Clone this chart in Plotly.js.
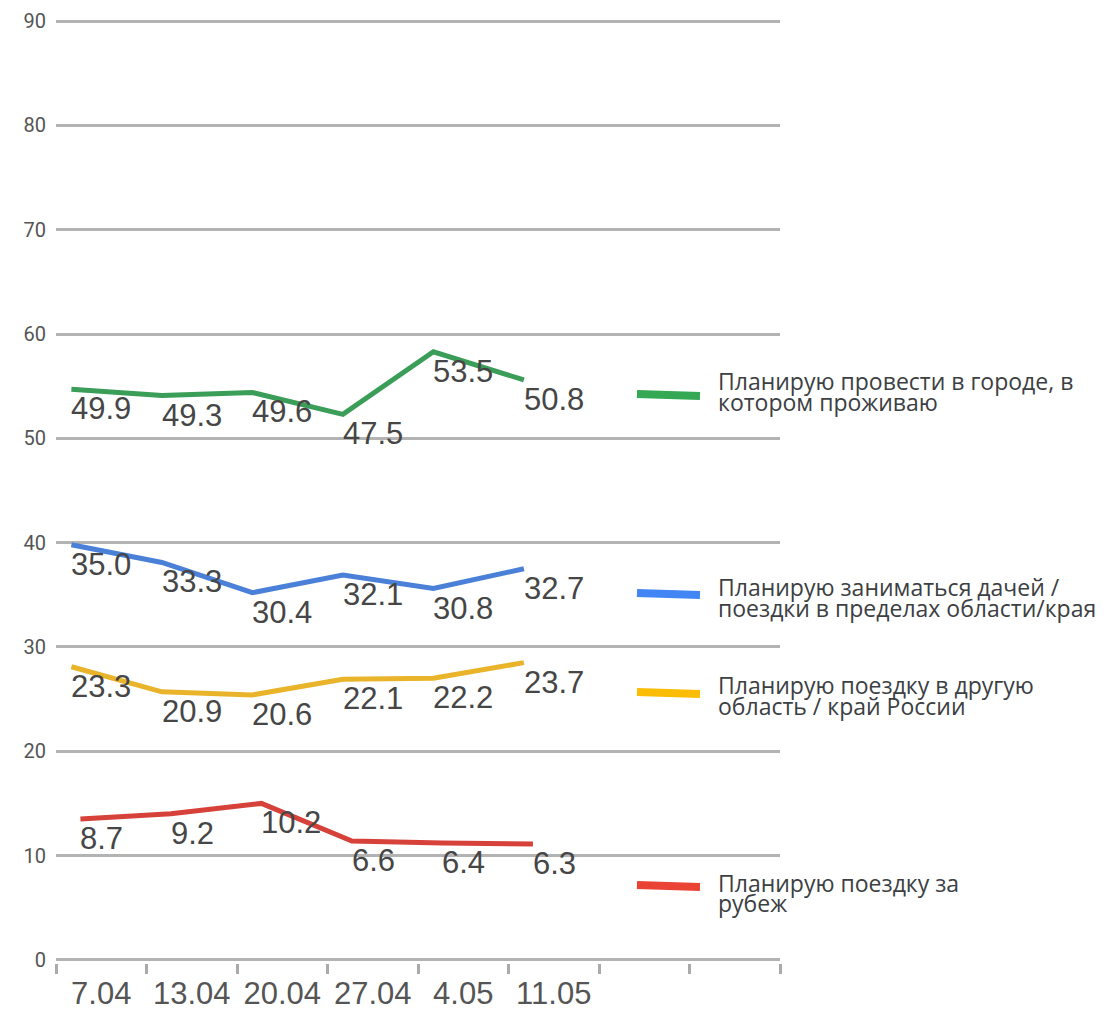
<!DOCTYPE html>
<html>
<head>
<meta charset="utf-8">
<script src="https://cdn.plot.ly/plotly-3.0.1.min.js"></script>
<style>html,body{margin:0;padding:0;background:#fff;}#chart{width:1107px;height:1010px;}</style>
</head>
<body>
<div id="chart"></div>
<script>
// ---- data ----
const categories = ['7.04', '13.04', '20.04', '27.04', '4.05', '11.05'];
const cityValues   = [49.9, 49.3, 49.6, 47.5, 53.5, 50.8];
const dachaValues  = [35.0, 33.3, 30.4, 32.1, 30.8, 32.7];
const russiaValues = [23.3, 20.9, 20.6, 22.1, 22.2, 23.7];
const abroadValues = [8.7, 9.2, 10.2, 6.6, 6.4, 6.3];
const seriesNames = [
  ['Планирую провести в городе, в', 'котором проживаю'],
  ['Планирую заниматься дачей /', 'поездки в пределах области/края'],
  ['Планирую поездку в другую', 'область / край России'],
  ['Планирую поездку за', 'рубеж']
];
const yTickLabels = [0, 10, 20, 30, 40, 50, 60, 70, 80, 90];
// the reference's gridline labels sit 4.8 units below the plotted values
const axisShift = 4.8;

// ---- layout geometry ----
const W = 1107, H = 1010;
const M = {l: 56, r: 327, t: 18, b: 47};
const PW = W - M.l - M.r, PH = H - M.t - M.b;
const px2x = p => (p - M.l) / PW;
const px2y = p => 1 - (p - M.t) / PH;

const lineColors = ['#3a9d58', '#4a80d8', '#eab42a', '#d6423a'];
const legendColors = ['#34a853', '#4285f4', '#fbbc04', '#ea4335'];
const seriesValues = [cityValues, dachaValues, russiaValues, abroadValues];
const xOffsets = [0.17, 0.17, 0.17, 0.27];

const traces = seriesValues.map((vals, s) => ({
  type: 'scatter',
  mode: 'lines',
  x: vals.map((v, i) => i + xOffsets[s]),
  y: vals,
  line: {color: lineColors[s], width: 5},
  showlegend: false,
  hoverinfo: 'skip',
  cliponaxis: false
}));

// dummy trace so the date-label axis exists
traces.push({type: 'scatter', mode: 'markers', x: [0.5], y: [null], xaxis: 'x2', yaxis: 'y', showlegend: false, hoverinfo: 'skip'});

const annotations = [];

// value labels: left edge at the point, just below the line
seriesValues.forEach((vals, s) => {
  vals.forEach((v, i) => {
    annotations.push({
      xref: 'x', yref: 'y', x: i + xOffsets[s], y: v,
      xanchor: 'left', yanchor: 'top', xshift: -2, yshift: 0,
      showarrow: false, text: v.toFixed(1),
      font: {family: 'Liberation Sans, Arial, sans-serif', size: 31, color: '#464646'}
    });
  });
});

const legendLinePx = [395, 594, 693, 886];
const legendTextPx = [[381, 402], [587, 608], [685, 706], [883, 903]];

const shapes = legendLinePx.map((py, s) => ({
  type: 'line', xref: 'paper', yref: 'paper',
  x0: px2x(637), x1: px2x(700), y0: px2y(py - 1), y1: px2y(py + 1),
  line: {color: legendColors[s], width: 8}
}));

seriesNames.forEach((lines, s) => {
  lines.forEach((t, k) => {
    annotations.push({
      xref: 'paper', yref: 'paper', x: px2x(716), y: px2y(legendTextPx[s][k]),
      xanchor: 'left', yanchor: 'middle', showarrow: false, text: t,
      font: {family: 'Open Sans, sans-serif', size: 23, color: '#3c4043'}
    });
  });
});

const layout = {
  width: W, height: H,
  margin: M,
  paper_bgcolor: '#fff', plot_bgcolor: '#fff',
  showlegend: false,
  xaxis: {
    range: [0, 8], tickvals: [0, 1, 2, 3, 4, 5, 6, 7, 8], ticktext: ['', '', '', '', '', '', '', '', ''],
    ticks: 'outside', ticklen: 10, tickwidth: 3, tickcolor: '#aaaaaa',
    showgrid: false, zeroline: false, showline: false, fixedrange: true
  },
  xaxis2: {
    overlaying: 'x', anchor: 'y', side: 'bottom', range: [0, 8],
    tickvals: categories.map((c, i) => i + 0.5), ticktext: categories,
    ticks: '', showgrid: false, zeroline: false, showline: false,
    tickfont: {family: 'Liberation Sans, Arial, sans-serif', size: 31, color: '#555555'},
    ticklabelstandoff: 9
  },
  yaxis: {
    range: [-0.3 - axisShift, 90.3 - axisShift],
    tickvals: yTickLabels.map(v => v - axisShift), ticktext: yTickLabels.map(String),
    showgrid: true, gridcolor: '#b3b3b3', gridwidth: 3, zeroline: false, showline: false,
    ticks: '', tickfont: {family: 'Roboto, sans-serif', size: 20, color: '#555555'},
    ticklabelstandoff: 9, fixedrange: true
  },
  shapes: shapes,
  annotations: annotations
};

Plotly.newPlot('chart', traces, layout, {displayModeBar: false, staticPlot: true});
</script>
</body>
</html>
